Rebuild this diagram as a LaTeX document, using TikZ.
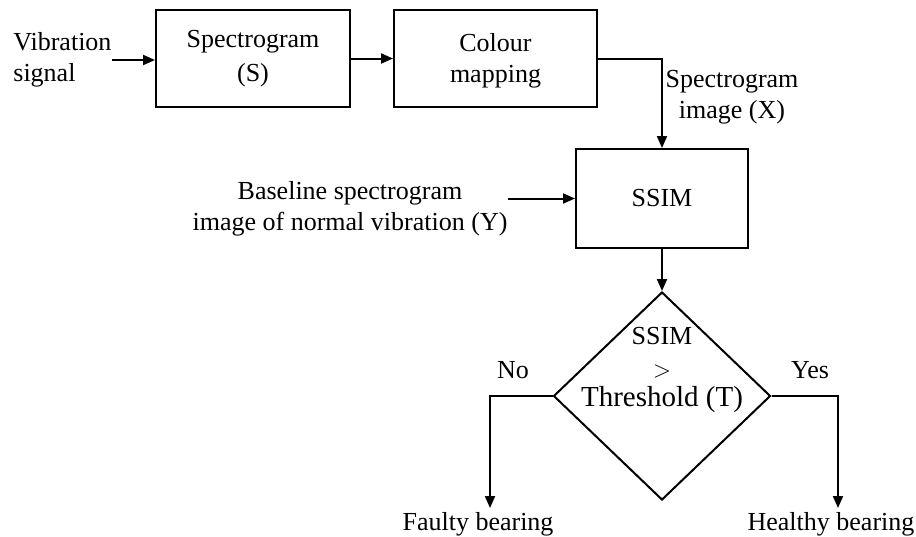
\documentclass[tikz,border=0pt]{standalone}
\usepackage{fontspec}
\setmainfont{Liberation Serif}
\usetikzlibrary{shapes.geometric,arrows.meta}
\tikzstyle{block}=[draw, line width=1pt, minimum height=48.5pt, inner sep=0pt, align=center]
\tikzstyle{decision}=[draw, diamond, line width=1pt, minimum width=108.5pt, minimum height=104pt, inner sep=0pt]
\tikzstyle{lbl}=[inner sep=0pt, align=center]
\tikzstyle{arr}=[line width=1pt, -{Triangle[length=6pt,width=5pt]}]

\begin{document}
\begin{tikzpicture}[x=0.5pt, y=-0.5pt, font=\fontsize{13}{15.5}\selectfont]
	\useasboundingbox (0,0) rectangle (916,536);
	% blocks
	\node[block, minimum width=97pt] (spec) at (253,58.5) {\strut Spectrogram\\[1.5pt](S)\strut};
	\node[block, minimum width=101.5pt] (colour) at (495.5,58.5) {\strut Colour\\mapping};
	\node[block, minimum width=86pt, minimum height=49.5pt] (ssim) at (662,198.5) {SSIM};
	\node[decision] (dec) at (662,396) {};
	\node[lbl] (cond) at (662,370) {SSIM\\[1pt]$>$\\[-1pt]{\fontsize{14.5}{16}\selectfont Threshold (T)}};
	% labels
	\node[lbl, align=left, anchor=west] (vib) at (13,60) {Vibration\\signal};
	\node[lbl] (img) at (732,97) {Spectrogram\\image (X)};
	\node[lbl] (base) at (350,209) {Baseline spectrogram\\image of normal vibration (Y)};
	\node[lbl] (no) at (513,370) {No};
	\node[lbl] (yes) at (810,370) {Yes};
	\node[lbl] (faulty) at (478,524) {Faulty bearing};
	\node[lbl] (healthy) at (831,524) {Healthy bearing};
	\coordinate (fEnd) at (490,508);
	\coordinate (hEnd) at (838,508);
	% connectors
	\draw[arr] (vib.east) -- (vib.east -| spec.west);
	\draw[arr] (spec.east) -- (colour.west);
	\draw[arr] (colour.east) -| (ssim.north);
	\draw[arr] (base.east |- ssim.west) -- (ssim.west);
	\draw[arr] (ssim.south) -- (dec.north);
	\draw[arr] (dec.west) -| (fEnd);
	\draw[arr] (dec.east) -| (hEnd);
\end{tikzpicture}
\end{document}
